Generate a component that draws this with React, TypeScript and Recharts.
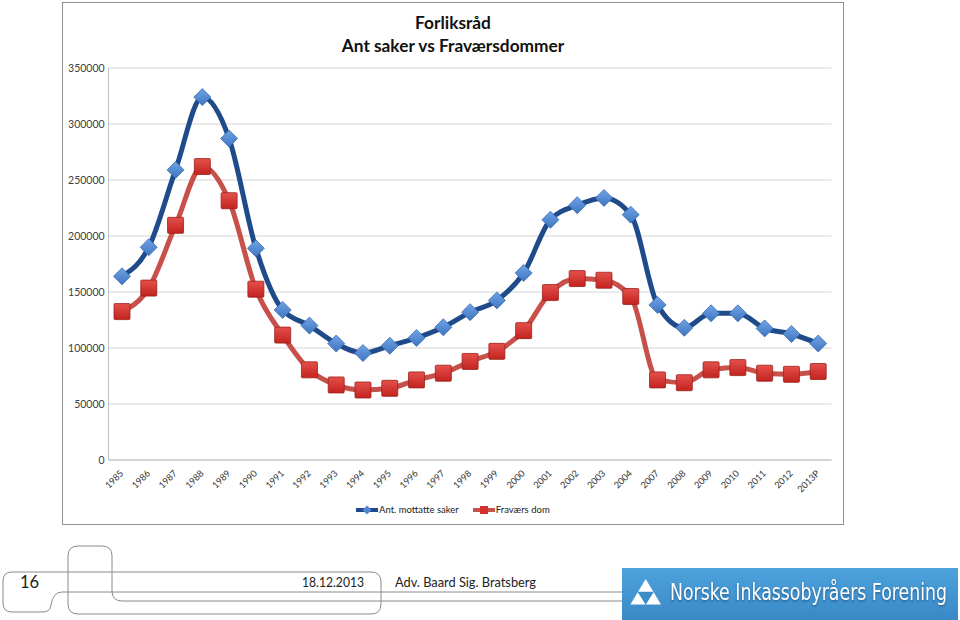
import React from "react";
import { LineChart, Line, XAxis, YAxis, CartesianGrid } from "recharts";

// Year labels as they appear on the category axis (no 2005/2006 in the source)
const years = [
  "1985", "1986", "1987", "1988", "1989", "1990", "1991", "1992", "1993", "1994",
  "1995", "1996", "1997", "1998", "1999", "2000", "2001", "2002", "2003", "2004",
  "2007", "2008", "2009", "2010", "2011", "2012", "2013P",
];

const antMottatteSaker = [
  164000, 190000, 259000, 324000, 287000, 189000, 134000, 120000, 104000, 95500,
  102000, 109000, 118500, 132000, 142500, 167000, 214500, 227500, 234000, 219000,
  138500, 118000, 131000, 131000, 117500, 112500, 104000,
];

const fravaersDom = [
  132500, 153500, 209500, 262000, 231500, 152500, 111500, 80500, 67000, 62500,
  64000, 71500, 77500, 88000, 97000, 115500, 149500, 162000, 160500, 146000,
  71500, 69000, 80500, 82500, 77500, 76500, 79000,
];

const yTicks = [0, 50000, 100000, 150000, 200000, 250000, 300000, 350000];

const seriesNames = ["Ant. mottatte saker", "Fraværs dom"];

const data = years.map((year, i) => ({
  year,
  saker: antMottatteSaker[i],
  dom: fravaersDom[i],
}));

const FONT = "Lato, 'Open Sans', sans-serif";

function Diamond(props: any) {
  const { cx, cy, index } = props;
  if (cx == null || cy == null) return null;
  const r = 8.5;
  return (
    <path
      key={`dia-${index}`}
      d={`M${cx},${cy - r}L${cx + r},${cy}L${cx},${cy + r}L${cx - r},${cy}Z`}
      fill="url(#diaFill)"
      stroke="#3b6cae"
      strokeWidth={0.8}
    />
  );
}

function Square(props: any) {
  const { cx, cy, index } = props;
  if (cx == null || cy == null) return null;
  const h = 8;
  return (
    <rect
      key={`sq-${index}`}
      x={cx - h}
      y={cy - h}
      width={h * 2}
      height={h * 2}
      rx={1}
      fill="url(#sqFill)"
      stroke="#9c201c"
      strokeWidth={0.8}
    />
  );
}

function YearTick({ x, y, payload }: any) {
  const ax = x + 2;
  const ay = y + 14;
  return (
    <text
      x={ax}
      y={ay}
      transform={`rotate(-45 ${ax} ${ay})`}
      textAnchor="end"
      fontSize={9.2}
      fill="#333"
      fontFamily={FONT}
    >
      {payload.value}
    </text>
  );
}

function LegendIcon({ kind }: { kind: "diamond" | "square" }) {
  return (
    <svg width={22} height={12} style={{ display: "block" }}>
      {kind === "diamond" ? (
        <>
          <line x1={0} y1={6} x2={22} y2={6} stroke="#1f4b8a" strokeWidth={4} />
          <path d="M11,1.5L15.5,6L11,10.5L6.5,6Z" fill="#4f86cf" />
        </>
      ) : (
        <>
          <line x1={0} y1={6} x2={22} y2={6} stroke="#c8504b" strokeWidth={4} />
          <rect x={7} y={2} width={8} height={8} fill="#d4302c" />
        </>
      )}
    </svg>
  );
}

function Footer() {
  return (
    <svg
      width={960}
      height={620}
      style={{ position: "absolute", left: 0, top: 0, pointerEvents: "none" }}
    >
      <g fill="none" stroke="#8a8a8a" strokeWidth={1}>
        <path d="M 381 590 V 582 Q 381 572 371 572 H 12 Q 3 572 3 581 V 603 Q 3 612 12 612 H 43 Q 50 612 51 605 Q 53 592 62 592 H 622" />
        <path d="M 381 590 V 604 Q 381 614 371 614 H 78 Q 68 614 68 604 V 556 Q 68 546 78 546 H 102 Q 112 546 112 556 V 591 Q 112 601 122 601 H 622" />
      </g>
      <g fontFamily={FONT} fill="#222">
        <text x={20} y={588} fontSize={16.5}>16</text>
        <text x={302} y={587} fontSize={14} textLength={62} lengthAdjust="spacingAndGlyphs">18.12.2013</text>
        <text x={395} y={587} fontSize={14} textLength={141} lengthAdjust="spacingAndGlyphs">Adv. Baard Sig. Bratsberg</text>
      </g>
      <defs>
        <linearGradient id="logoBg" x1="0" y1="0" x2="0" y2="1">
          <stop offset="0%" stopColor="#4da2dc" />
          <stop offset="100%" stopColor="#3a89c7" />
        </linearGradient>
      </defs>
      <rect x={622} y={568} width={336} height={52} fill="url(#logoBg)" />
      <path d="M645.7,579 L661,604.5 L630.4,604.5 Z" fill="#ffffff" />
      <path d="M638.6,592.3 L652.8,592.3 L645.7,603.6 Z" fill="#3c8bc9" stroke="#3c8bc9" strokeWidth={1.2} />
      <g transform="translate(670 600) scale(1 1.3)">
        <text
          x={0}
          y={0}
          fontFamily="'DejaVu Sans Condensed', 'DejaVu Sans', sans-serif"
          fontSize={17.5}
          fill="#ffffff"
          textLength={277}
          lengthAdjust="spacingAndGlyphs"
          style={{ filter: "drop-shadow(0px 1px 1px rgba(0,40,80,0.5))" }}
        >
          Norske Inkassobyråers Forening
        </text>
      </g>
    </svg>
  );
}

export default function App() {
  return (
    <div
      style={{
        position: "absolute",
        left: 0,
        top: 0,
        width: 960,
        height: 620,
        background: "#ffffff",
        fontFamily: FONT,
        overflow: "hidden",
      }}
    >
      <Footer />

      {/* chart frame */}
      <div
        style={{
          position: "absolute",
          left: 62,
          top: 2,
          width: 782,
          height: 523,
          border: "1px solid #8f8f8f",
          boxSizing: "border-box",
        }}
      />

      <div
        style={{
          position: "absolute",
          left: 62,
          top: 11,
          width: 782,
          textAlign: "center",
          fontWeight: 700,
          fontSize: 17.3,
          lineHeight: "23px",
          color: "#111",
        }}
      >
        <div>Forliksråd</div>
        <div>Ant saker vs Fraværsdommer</div>
      </div>

      <div style={{ position: "absolute", left: 62, top: 2 }}>
        <LineChart
          width={782}
          height={523}
          data={data}
          margin={{ top: 66, right: 12.4, bottom: 15, left: 0 }}
        >
          <defs>
            <linearGradient id="diaFill" x1="0" y1="0" x2="0" y2="1">
              <stop offset="0%" stopColor="#6fa3e6" />
              <stop offset="100%" stopColor="#3f76c0" />
            </linearGradient>
            <linearGradient id="sqFill" x1="0" y1="0" x2="0" y2="1">
              <stop offset="0%" stopColor="#e4504b" />
              <stop offset="100%" stopColor="#c3231f" />
            </linearGradient>
          </defs>
          <CartesianGrid vertical={false} stroke="#d6d6d6" strokeWidth={1.2} />
          <XAxis
            dataKey="year"
            interval={0}
            padding={{ left: 13.4, right: 13.4 }}
            tickLine={false}
            tickSize={0}
            tickMargin={0}
            height={50}
            stroke="#bdbdbd"
            tick={<YearTick />}
          />
          <YAxis
            domain={[0, 350000]}
            ticks={yTicks}
            width={46.6}
            tickLine={false}
            tickSize={0}
            tickMargin={4}
            stroke="#bdbdbd"
            tick={{ fontSize: 10.5, fill: "#404040", fontFamily: FONT }}
          />
          <Line
            type="monotone"
            dataKey="saker"
            name={seriesNames[0]}
            stroke="#1f4b8a"
            strokeWidth={5}
            dot={Diamond}
            activeDot={false}
            isAnimationActive={false}
          />
          <Line
            type="monotone"
            dataKey="dom"
            name={seriesNames[1]}
            stroke="#c8504b"
            strokeWidth={5}
            dot={Square}
            activeDot={false}
            isAnimationActive={false}
          />
        </LineChart>
      </div>

      {/* legend */}
      <div
        style={{
          position: "absolute",
          left: 356,
          top: 503,
          display: "flex",
          alignItems: "center",
          fontSize: 9.5,
          color: "#222",
          lineHeight: "14px",
        }}
      >
        <LegendIcon kind="diamond" />
        <span style={{ marginLeft: 1, marginRight: 14 }}>{seriesNames[0]}</span>
        <LegendIcon kind="square" />
        <span style={{ marginLeft: 1 }}>{seriesNames[1]}</span>
      </div>
    </div>
  );
}
